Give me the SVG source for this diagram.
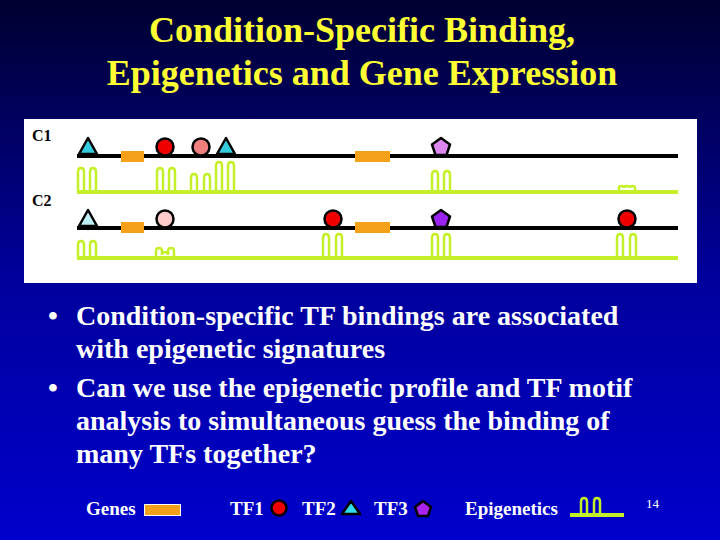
<svg xmlns="http://www.w3.org/2000/svg" width="720" height="540" viewBox="0 0 720 540">
<defs>
<linearGradient id="bg" x1="0" y1="0" x2="0" y2="1">
<stop offset="0" stop-color="#000030"/>
<stop offset="0.5" stop-color="#00009A"/>
<stop offset="1" stop-color="#0000CC"/>
</linearGradient>
<path id="peak" d="M-3,0 V-20 Q-3,-24 0,-24 Q3,-24 3,-20 V0"/>
</defs>
<style>
.title{font-family:"Liberation Serif","Times New Roman",serif;font-weight:bold;font-size:36px;fill:#FFFF33;text-anchor:middle}
.body{font-family:"Liberation Serif","Times New Roman",serif;font-weight:bold;font-size:28px;fill:#FFFFFF}
.leg{font-family:"Liberation Serif","Times New Roman",serif;font-weight:bold;font-size:19px;fill:#FFFFFF}
.cl{font-family:"Liberation Serif","Times New Roman",serif;font-weight:bold;font-size:16px;fill:#000000}
.dna{stroke:#000000;stroke-width:4;fill:none}
.epi{stroke:#C4F02A;stroke-width:4;fill:none}
.pk{stroke:#C4F02A;stroke-width:2.5;fill:none}
.gene{fill:#F5A01A}
.tf{stroke:#000000;stroke-width:2.5;stroke-linejoin:round}
</style>
<rect width="720" height="540" fill="url(#bg)"/>
<text class="title" x="362" y="42">Condition-Specific Binding,</text>
<text class="title" x="362" y="85">Epigenetics and Gene Expression</text>

<rect x="24" y="119" width="673" height="164" fill="#FFFFFF"/>
<text class="cl" x="32" y="141">C1</text>
<text class="cl" x="32" y="206">C2</text>

<g id="connectors">
<line class="dna" x1="77" y1="156" x2="678" y2="156"/>
<line class="dna" x1="77" y1="228" x2="678" y2="228"/>
<line class="epi" x1="77" y1="192" x2="678" y2="192"/>
<line class="epi" x1="77" y1="258" x2="678" y2="258"/>
</g>

<g id="c1-epi">
<path class="pk" d="M78,192 V172 Q78,168 81,168 Q84,168 84,172 V192"/>
<path class="pk" d="M90,192 V172 Q90,168 93,168 Q96,168 96,172 V192"/>
<path class="pk" d="M157,192 V172 Q157,168 160,168 Q163,168 163,172 V192"/>
<path class="pk" d="M169,192 V172 Q169,168 172,168 Q175,168 175,172 V192"/>
<path class="pk" d="M191,192 V178 Q191,174 194,174 Q197,174 197,178 V192"/>
<path class="pk" d="M204,192 V178 Q204,174 207,174 Q210,174 210,178 V192"/>
<path class="pk" d="M216,192 V166 Q216,162 219,162 Q222,162 222,166 V192"/>
<path class="pk" d="M228,192 V166 Q228,162 231,162 Q234,162 234,166 V192"/>
<path class="pk" d="M432,192 V175 Q432,171 435,171 Q438,171 438,175 V192"/>
<path class="pk" d="M444,192 V175 Q444,171 447,171 Q450,171 450,175 V192"/>
<path class="pk" d="M619,192 V188 Q619,186 621.5,186 Q624,186 624,188 M624,188 Q624,186 627,186 Q630,186 630,188 M630,188 Q630,186 632.5,186 Q635,186 635,188 V192"/>
</g>
<g id="c2-epi">
<path class="pk" d="M78,258 V245 Q78,241 81,241 Q84,241 84,245 V258"/>
<path class="pk" d="M90,258 V245 Q90,241 93,241 Q96,241 96,245 V258"/>
<path class="pk" d="M156,258 V251 Q156,248 159,248 Q162,248 162,251 V255 M162,255 Q162,252 165,252 Q168,252 168,255 M168,255 V251 Q168,248 171,248 Q174,248 174,251 V258"/>
<path class="pk" d="M323,258 V238 Q323,234 326,234 Q329,234 329,238 V258"/>
<path class="pk" d="M336,258 V238 Q336,234 339,234 Q342,234 342,238 V258"/>
<path class="pk" d="M432,258 V238 Q432,234 435,234 Q438,234 438,238 V258"/>
<path class="pk" d="M444,258 V238 Q444,234 447,234 Q450,234 450,238 V258"/>
<path class="pk" d="M617,258 V238 Q617,234 620,234 Q623,234 623,238 V258"/>
<path class="pk" d="M630,258 V238 Q630,234 633,234 Q636,234 636,238 V258"/>
</g>

<g id="c1-genes">
<rect class="gene" x="121" y="151" width="23" height="11"/>
<rect class="gene" x="355" y="151" width="35" height="11"/>
</g>
<g id="c2-genes">
<rect class="gene" x="121" y="222" width="23" height="11"/>
<rect class="gene" x="355" y="222" width="35" height="11"/>
</g>

<g id="c1-tf">
<polygon class="tf" points="88,138 79,154 97,154" fill="#33CCDD"/>
<circle class="tf" cx="165" cy="147" r="8.5" fill="#EE0000"/>
<circle class="tf" cx="201" cy="147" r="8.5" fill="#F08080"/>
<polygon class="tf" points="226,138 217,154 235,154" fill="#33CCDD"/>
<polygon class="tf" points="441,138 450,144.5 446.5,155 435.5,155 432,144.5" fill="#DD88EE"/>
</g>
<g id="c2-tf">
<polygon class="tf" points="88,210 79,226 97,226" fill="#BBEEF5"/>
<circle class="tf" cx="165" cy="219" r="8.5" fill="#FFCCCC"/>
<circle class="tf" cx="333" cy="219" r="8.5" fill="#EE0000"/>
<polygon class="tf" points="441,210 450,216.5 446.5,227 435.5,227 432,216.5" fill="#9922EE"/>
<circle class="tf" cx="627" cy="219" r="8.5" fill="#EE0000"/>
</g>

<g id="bullets">
<text class="body" x="48" y="325">•</text>
<text class="body" x="76" y="325">Condition-specific TF bindings are associated</text>
<text class="body" x="76" y="358">with epigenetic signatures</text>
<text class="body" x="48" y="397">•</text>
<text class="body" x="76" y="397">Can we use the epigenetic profile and TF motif</text>
<text class="body" x="76" y="430">analysis to simultaneous guess the binding of</text>
<text class="body" x="76" y="463">many TFs together?</text>
</g>

<g id="legend">
<text class="leg" x="86" y="515">Genes</text>
<rect x="144.5" y="504.5" width="36" height="11" fill="#F5A01A" stroke="#FFFFFF" stroke-width="1"/>
<text class="leg" x="230" y="515">TF1</text>
<circle class="tf" cx="279" cy="508" r="7.5" fill="#EE0000"/>
<text class="leg" x="302" y="515">TF2</text>
<polygon class="tf" points="351,501 342,514 360,514" fill="#33DDEE"/>
<text class="leg" x="374" y="515">TF3</text>
<polygon class="tf" points="423,501 431,507 428,516 418,516 415,507" fill="#AA22EE"/>
<text class="leg" x="465" y="515">Epigenetics</text>
<line class="epi" x1="570" y1="515" x2="624" y2="515"/>
<path class="pk" d="M581,515 V502 Q581,498 584,498 Q587,498 587,502 V515"/>
<path class="pk" d="M594,515 V502 Q594,498 597,498 Q600,498 600,502 V515"/>
<text x="646" y="508" font-family="Liberation Serif, Times New Roman, serif" font-size="13" fill="#FFFFFF">14</text>
</g>
</svg>
